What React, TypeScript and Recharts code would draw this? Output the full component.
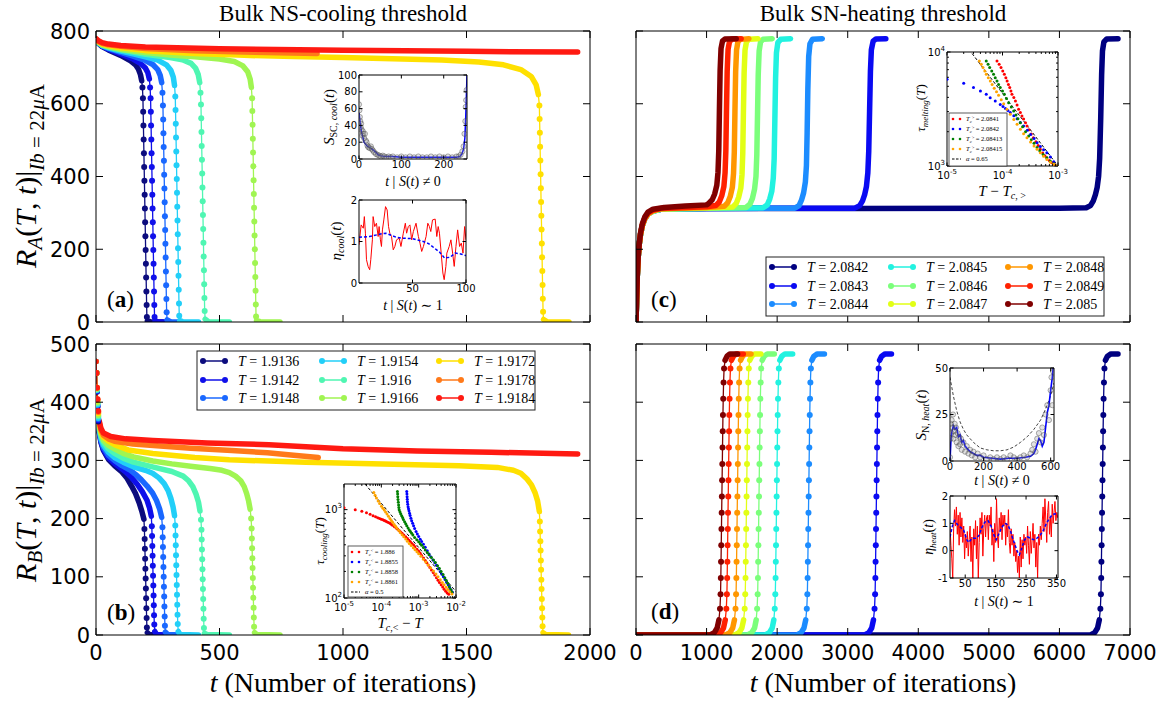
import React from "react";
import { LineChart, Line, XAxis, YAxis } from "recharts";

type Pts = number[][];
type Side = "bottom" | "top" | "left" | "right";

const serif = "Liberation Serif, DejaVu Serif, serif";
const sans = "DejaVu Sans, sans-serif";

// ---------- main panel data ----------
const abTemps = ["1.9136", "1.9142", "1.9148", "1.9154", "1.916", "1.9166", "1.9172", "1.9178", "1.9184"];
const cdTemps = ["2.0842", "2.0843", "2.0844", "2.0845", "2.0846", "2.0847", "2.0848", "2.0849", "2.085"];
const abColors = ["#0c0c7e", "#1010ea", "#1a68ff", "#22cff8", "#4ff6b2", "#a0f552", "#ffe000", "#ff7a1a", "#ff1a12"];
const cdColors = ["#000080", "#0a0af2", "#1c8cff", "#22f2e0", "#7bff7b", "#e2ff15", "#ff9700", "#ff2100", "#800000"];

const abXTicks = [0, 500, 1000, 1500, 2000];
const cdXTicks = [0, 1000, 2000, 3000, 4000, 5000, 6000, 7000];
const aYTicks = [0, 200, 400, 600, 800];
const bYTicks = [0, 100, 200, 300, 400, 500];

// R_A(T,t), cooling, panel (a)
const coolA: Pts[] = [
  [[0,776],[10,766],[25,757],[50,748],[100,733],[140,718],[160,707],[172,695],[180,680],[185,663],[188,645],[190,615],[191,578],[192,540],[193,502],[194,464],[195,426],[196,388],[197,350],[198,312],[199,274],[200,236],[201,198],[202,160],[203,122],[204,84],[205,47],[206,14],[208,3],[220,1],[270,0]],
  [[0,776],[10,767],[25,758],[50,750],[100,737],[150,723],[180,711],[200,698],[210,685],[216,668],[219,645],[221,615],[222,578],[223,540],[224,502],[225,464],[226,426],[227,388],[228,350],[229,312],[230,274],[231,236],[232,198],[233,160],[234,122],[235,84],[236,47],[237,14],[239,3],[250,1],[300,0]],
  [[0,776],[10,767],[25,759],[50,752],[100,741],[150,731],[200,719],[230,708],[250,694],[260,678],[266,658],[269,630],[271,595],[272,557],[273,519],[274,481],[275,443],[276,405],[277,367],[278,329],[279,291],[280,253],[281,215],[282,177],[283,139],[284,101],[285,63],[286,27],[288,6],[300,1],[340,0]],
  [[0,776],[10,768],[25,760],[50,754],[100,745],[150,737],[200,729],[250,720],[285,707],[303,692],[313,673],[318,650],[321,620],[322,583],[323,545],[324,507],[325,469],[326,431],[327,393],[328,355],[329,317],[330,279],[331,241],[332,203],[333,165],[334,127],[335,89],[336,51],[337,17],[339,4],[350,1],[415,0]],
  [[0,776],[10,768],[25,761],[50,756],[100,748],[200,736],[300,727],[350,721],[385,711],[403,698],[414,680],[420,658],[423,630],[425,598],[426,560],[427,522],[428,484],[429,446],[430,408],[431,370],[432,332],[433,294],[434,256],[435,218],[436,180],[437,142],[438,104],[439,66],[440,30],[442,8],[455,1],[540,0]],
  [[0,777],[10,769],[25,762],[50,757],[100,750],[200,741],[300,734],[400,729],[500,723],[560,716],[595,704],[614,688],[624,668],[629,645],[632,615],[633,580],[634,542],[635,504],[636,466],[637,428],[638,390],[639,352],[640,314],[641,276],[642,238],[643,200],[644,162],[645,124],[646,86],[647,48],[648,15],[650,4],[665,1],[745,0]],
  [[0,777],[10,770],[25,764],[50,760],[100,754],[200,746],[400,738],[600,733],[800,730],[1000,727],[1200,724],[1400,720],[1550,715],[1650,707],[1720,694],[1762,675],[1782,652],[1791,625],[1795,595],[1796,558],[1797,520],[1798,482],[1799,444],[1800,406],[1801,368],[1802,330],[1803,292],[1804,254],[1805,216],[1806,178],[1807,140],[1808,102],[1809,64],[1810,28],[1812,7],[1825,1],[1915,0]],
  [[0,778],[10,771],[25,766],[50,762],[100,758],[200,752],[400,746],[600,742],[895,738]],
  [[0,779],[10,773],[25,768],[50,764],[100,760],[200,756],[500,751],[1000,747],[1500,744],[1950,742]],
];

// R_B(T,t), cooling, panel (b)
const coolB: Pts[] = [
  [[0,470],[2,450],[4,418],[6,392],[9,367],[13,348],[20,331],[30,317],[50,302],[75,291],[105,280],[125,270],[144,256],[160,243],[175,227],[186,212],[194,199],[196,182],[197,165],[198,148],[199,131],[200,114],[201,97],[202,80],[203,63],[204,46],[205,29],[206,13],[208,4],[215,1],[270,0]],
  [[0,470],[2,450],[4,419],[6,393],[9,369],[13,350],[20,333],[30,319],[50,305],[75,295],[100,287],[121,280],[145,270],[167,259],[188,246],[206,232],[217,218],[224,204],[226,187],[227,170],[228,153],[229,136],[230,119],[231,102],[232,85],[233,68],[234,51],[235,34],[236,18],[238,6],[245,1],[300,0]],
  [[0,470],[2,450],[4,420],[6,395],[9,371],[13,352],[20,335],[30,322],[50,309],[75,300],[105,291],[136,284],[160,276],[183,267],[207,256],[229,244],[245,231],[258,216],[266,202],[269,185],[270,168],[271,151],[272,134],[273,117],[274,100],[275,83],[276,66],[277,49],[278,32],[279,16],[281,5],[290,1],[340,0]],
  [[0,470],[2,450],[4,421],[6,396],[9,373],[13,354],[20,338],[30,326],[50,314],[75,305],[110,297],[152,289],[200,283],[229,278],[255,270],[276,260],[292,248],[303,235],[312,220],[318,205],[321,188],[322,171],[323,154],[324,137],[325,120],[326,103],[327,86],[328,69],[329,52],[330,35],[331,19],[333,6],[340,1],[415,0]],
  [[0,470],[2,450],[4,422],[6,398],[9,376],[13,357],[20,342],[30,331],[50,320],[75,312],[110,304],[152,297],[229,289],[307,281],[353,273],[375,265],[392,255],[405,242],[415,228],[421,213],[425,198],[427,181],[428,164],[429,147],[430,130],[431,113],[432,96],[433,79],[434,62],[435,45],[436,28],[437,12],[439,3],[450,1],[540,0]],
  [[0,470],[2,450],[4,423],[6,400],[9,378],[13,360],[20,345],[30,335],[50,326],[75,320],[110,312],[152,306],[230,299],[307,294],[400,289],[462,286],[510,283],[540,279],[565,273],[586,265],[600,255],[610,243],[618,230],[624,216],[628,200],[630,183],[631,166],[632,149],[633,132],[634,115],[635,98],[636,81],[637,64],[638,47],[639,30],[640,14],[642,4],[650,1],[745,0]],
  [[0,470],[2,450],[4,425],[6,403],[9,381],[13,363],[20,349],[30,340],[50,333],[75,327],[130,318],[230,312],[400,305],[540,301],[850,297],[1160,294],[1470,291],[1625,288],[1690,283],[1720,278],[1745,268],[1763,258],[1778,244],[1788,230],[1795,212],[1797,195],[1798,178],[1799,161],[1800,145],[1801,128],[1802,112],[1803,95],[1804,79],[1805,62],[1806,46],[1807,30],[1808,15],[1810,4],[1820,1],[1913,0]],
  [[0,470],[2,450],[4,425],[6,405],[9,383],[13,366],[20,352],[30,343],[50,337],[75,333],[150,328],[384,321],[550,317],[694,313],[800,309],[900,305]],
  [[0,470],[2,450],[4,425],[6,405],[9,385],[13,368],[20,355],[30,347],[60,341],[120,337],[230,334],[450,330],[700,327],[1000,320],[1300,316],[1600,314],[1950,311]],
];

// R_A(T,t), heating, panel (c)
const heatC: Pts[] = [
  [[0,0],[8,60],[18,125],[30,175],[45,212],[65,242],[90,265],[125,284],[170,297],[240,305],[350,310],[1000,312],[3000,312],[6000,313],[6380,314],[6440,320],[6480,333],[6510,350],[6535,370],[6555,400],[6570,450],[6585,560],[6598,680],[6610,745],[6630,770],[6670,778],[6830,779]],
  [[0,0],[8,60],[18,125],[30,175],[45,212],[65,242],[90,265],[125,284],[170,297],[240,305],[350,310],[1000,312],[3100,313],[3170,320],[3210,333],[3240,350],[3265,372],[3285,410],[3298,470],[3310,580],[3322,690],[3335,748],[3360,772],[3400,778],[3540,779]],
  [[0,0],[8,60],[18,125],[30,175],[45,212],[65,242],[90,265],[125,284],[170,297],[240,305],[350,310],[1000,312],[2250,313],[2310,320],[2345,335],[2375,355],[2400,385],[2415,430],[2425,520],[2435,640],[2447,730],[2465,765],[2500,777],[2640,779]],
  [[0,0],[8,60],[18,125],[30,175],[45,212],[65,242],[90,265],[125,284],[170,297],[240,305],[350,310],[1000,313],[1800,314],[1860,322],[1895,338],[1925,360],[1945,395],[1958,450],[1968,560],[1978,670],[1990,740],[2010,768],[2050,777],[2190,779]],
  [[0,0],[8,60],[18,125],[30,175],[45,212],[65,242],[90,265],[125,284],[170,297],[240,305],[350,310],[1000,313],[1560,315],[1615,324],[1650,340],[1680,365],[1700,400],[1712,460],[1722,570],[1732,680],[1745,745],[1765,770],[1800,777],[1930,779]],
  [[0,0],[8,60],[18,125],[30,175],[45,212],[65,242],[90,265],[125,284],[170,297],[240,305],[350,311],[1000,314],[1370,316],[1420,326],[1455,343],[1485,368],[1502,405],[1513,465],[1522,575],[1532,685],[1545,748],[1565,770],[1600,777],[1730,779]],
  [[0,0],[8,60],[18,125],[30,175],[45,212],[65,242],[90,265],[125,284],[170,297],[240,306],[350,311],[1000,315],[1250,318],[1300,328],[1335,345],[1365,370],[1382,408],[1393,468],[1402,578],[1412,688],[1425,748],[1445,771],[1480,777],[1600,779]],
  [[0,0],[8,61],[18,126],[30,176],[45,213],[65,244],[90,267],[125,286],[170,299],[240,307],[350,312],[1000,317],[1130,320],[1180,330],[1215,347],[1245,372],[1262,410],[1273,470],[1282,580],[1292,690],[1305,750],[1325,771],[1360,778],[1490,779]],
  [[0,0],[8,62],[18,128],[30,178],[45,215],[65,246],[90,270],[125,289],[170,302],[240,310],[400,315],[700,319],[1000,322],[1030,326],[1080,336],[1115,352],[1145,376],[1162,412],[1173,472],[1182,582],[1192,692],[1205,752],[1225,772],[1260,778],[1420,779]],
];

// R_B(T,t), heating, panel (d)
const heatD: Pts[] = [
  [[0,0],[6440,0],[6500,4],[6540,12],[6565,26],[6580,45],[6588,70],[6592,98],[6595,126],[6598,154],[6601,182],[6604,210],[6607,238],[6610,266],[6613,294],[6616,322],[6619,350],[6622,378],[6626,406],[6631,434],[6638,458],[6652,472],[6680,479],[6730,483],[6830,483]],
  [[0,0],[3240,0],[3300,4],[3340,12],[3365,26],[3380,45],[3388,70],[3392,98],[3395,126],[3398,154],[3401,182],[3404,210],[3407,238],[3410,266],[3413,294],[3416,322],[3419,350],[3422,378],[3426,406],[3431,434],[3438,458],[3452,472],[3480,479],[3530,483],[3620,483]],
  [[0,0],[2280,0],[2340,4],[2380,12],[2405,26],[2420,45],[2428,70],[2432,98],[2435,126],[2438,154],[2441,182],[2444,210],[2447,238],[2450,266],[2453,294],[2456,322],[2459,350],[2462,378],[2466,406],[2471,434],[2478,458],[2492,472],[2520,479],[2570,483],[2670,483]],
  [[0,0],[1830,0],[1890,4],[1930,12],[1953,26],[1966,45],[1974,70],[1978,98],[1981,126],[1984,154],[1987,182],[1990,210],[1993,238],[1996,266],[1999,294],[2002,322],[2005,350],[2008,378],[2012,406],[2017,434],[2024,458],[2038,472],[2066,479],[2110,483],[2220,483]],
  [[0,0],[1580,0],[1640,4],[1680,12],[1703,26],[1716,45],[1724,70],[1728,98],[1731,126],[1734,154],[1737,182],[1740,210],[1743,238],[1746,266],[1749,294],[1752,322],[1755,350],[1758,378],[1762,406],[1767,434],[1774,458],[1788,472],[1816,479],[1860,483],[1960,483]],
  [[0,0],[1400,0],[1460,4],[1500,12],[1525,26],[1540,45],[1548,70],[1552,98],[1555,126],[1558,154],[1561,182],[1564,210],[1567,238],[1570,266],[1573,294],[1576,322],[1579,350],[1582,378],[1586,406],[1591,434],[1598,458],[1612,472],[1640,479],[1680,483],[1770,483]],
  [[0,0],[1270,0],[1330,4],[1370,12],[1395,26],[1410,45],[1418,70],[1422,98],[1425,126],[1428,154],[1431,182],[1434,210],[1437,238],[1440,266],[1443,294],[1446,322],[1449,350],[1452,378],[1456,406],[1461,434],[1468,458],[1482,472],[1510,479],[1550,483],[1630,483]],
  [[0,0],[1140,0],[1200,4],[1240,12],[1265,26],[1280,45],[1288,70],[1292,98],[1295,126],[1298,154],[1301,182],[1304,210],[1307,238],[1310,266],[1313,294],[1316,322],[1319,350],[1322,378],[1326,406],[1331,434],[1338,458],[1352,472],[1380,479],[1420,483],[1520,483]],
  [[0,0],[1050,0],[1110,4],[1150,12],[1175,26],[1190,45],[1198,70],[1202,98],[1205,126],[1208,154],[1211,182],[1214,210],[1217,238],[1220,266],[1223,294],[1226,322],[1229,350],[1232,378],[1236,406],[1241,434],[1248,458],[1262,472],[1290,479],[1330,483],[1440,483]],
];

// ---------- inset data ----------
const sCoolPts: Pts = [[0,65],[1,58],[2,50],[3,45],[4,38],[5,42],[6,35],[8,28],[9,33],[10,30],[12,25],[14,30],[16,22],[18,20],[20,16],[22,14],[25,13],[28,15],[30,12],[33,10],[36,8],[40,6],[44,5],[48,4],[52,3],[56,4],[60,3],[65,2],[70,3],[75,2],[80,3],[90,2],[100,3],[110,2],[120,3],[130,2],[140,3],[150,2],[160,2],[170,3],[180,2],[190,3],[200,2],[210,3],[220,2],[230,3],[235,3],[240,5],[244,9],[247,15],[249,30],[251,45],[252,62],[253,70],[254,82]];
const sCoolFit: Pts = [[0,55],[3,42],[6,32],[9,26],[12,20],[15,18],[20,15],[25,14],[30,12],[35,10],[40,8],[45,5],[50,4],[60,3],[80,3],[100,2],[150,2],[200,2],[230,2],[238,3],[243,6],[247,12],[250,25],[252,50],[253.5,75],[255,100]];
const etaCool: Pts = [[0,0.92],[2,1.4],[4,1.32],[5,1.6],[6,1.2],[7,0.56],[8.5,0.4],[10,0.32],[11,0.56],[12.5,1.04],[13.2,1.6],[14.7,1.36],[16.3,1.44],[17.9,1.12],[18.8,1.36],[20,1.04],[21,0.88],[21.9,1.28],[23.2,1.52],[24.8,1.84],[26.3,1.76],[27.6,1.36],[28.8,1.2],[30.4,1.12],[32,0.8],[33.5,0.88],[35.1,1.04],[37.6,1.08],[39.2,0.88],[41.4,1.2],[43.3,1.44],[44.5,1.2],[46.1,1.36],[47.6,1.4],[49.2,1.04],[50.8,1.24],[53.3,1.44],[55.5,1.12],[57,0.96],[58.6,0.76],[60.2,0.88],[62.7,1.12],[64.3,1.44],[65.8,1.36],[67.1,1.24],[68.7,1.52],[71.2,1.54],[72.7,1.12],[74,1.36],[75.2,1.2],[76.8,0.72],[78.4,0.24],[79.6,0.08],[81.2,0.4],[82.1,0.72],[84.3,0.88],[85.9,1.04],[87.5,0.72],[89,0.4],[90.6,0.88],[92.2,1.28],[94,0.88],[95.6,0.96],[97.2,0.72],[98.7,1.36],[100,1.04]];
const etaCoolAvg: Pts = [[0,1.1],[10,1.12],[20,1.18],[25,1.2],[30,1.15],[35,1.1],[40,1.08],[50,1.07],[60,1.0],[65,0.95],[70,0.85],[75,0.75],[80,0.6],[85,0.62],[90,0.72],[95,0.7],[100,0.66]];

const tauCoolRed: Pts = [[1.0e-5,1050],[2.0e-5,1000],[3.0e-5,960],[4.0e-5,920],[5.0e-5,885],[6.0e-5,852],[7.0e-5,830],[8.0e-5,810],[9.0e-5,795],[1.0e-4,780],[1.1e-4,767],[1.2e-4,755],[1.3e-4,742],[1.4e-4,730],[1.55e-4,715],[1.7e-4,700],[1.85e-4,683],[2.0e-4,665],[2.25e-4,642],[2.5e-4,620],[2.75e-4,600],[3.0e-4,580],[3.3e-4,560],[3.6e-4,540],[4.0e-4,515],[4.5e-4,492],[5.0e-4,470],[5.5e-4,450],[6.0e-4,432],[6.6e-4,415],[7.3e-4,398],[8.0e-4,380],[9.0e-4,357],[1.0e-3,337],[1.1e-3,320],[1.2e-3,303],[1.35e-3,283],[1.5e-3,265],[1.65e-3,250],[1.8e-3,237],[2.0e-3,222],[2.2e-3,208],[2.45e-3,194],[2.7e-3,182],[3.0e-3,170],[3.3e-3,159],[3.6e-3,150],[4.0e-3,141],[4.4e-3,133],[4.8e-3,126],[5.3e-3,119],[5.8e-3,114],[6.4e-3,110]];
const tauCoolBlue: Pts = [[4.8e-4,1600],[4.85e-4,1500],[4.9e-4,1400],[4.95e-4,1310],[5.0e-4,1230],[5.1e-4,1150],[5.2e-4,1080],[5.35e-4,1020],[5.5e-4,970],[5.7e-4,910],[5.9e-4,860],[6.2e-4,800],[6.5e-4,750],[6.9e-4,700],[7.3e-4,655],[7.8e-4,610],[8.5e-4,565],[9.2e-4,530],[1.0e-3,497],[1.1e-3,463],[1.2e-3,435],[1.34e-3,405],[1.5e-3,375],[1.7e-3,343],[1.9e-3,315],[2.1e-3,293],[2.4e-3,270],[2.7e-3,250],[3.0e-3,234],[3.4e-3,215],[3.8e-3,199],[4.2e-3,186],[4.6e-3,174],[5.1e-3,162],[5.6e-3,151],[6.2e-3,141],[6.8e-3,131],[7.4e-3,123],[8.0e-3,116]];
const tauCoolGreen: Pts = [[2.7e-4,1600],[2.73e-4,1500],[2.76e-4,1400],[2.8e-4,1300],[2.85e-4,1210],[2.9e-4,1130],[2.95e-4,1060],[3.0e-4,1000],[3.15e-4,945],[3.3e-4,900],[3.5e-4,855],[3.7e-4,812],[3.9e-4,775],[4.2e-4,730],[4.5e-4,690],[4.8e-4,655],[5.2e-4,620],[5.6e-4,590],[6.0e-4,565],[6.5e-4,540],[7.0e-4,515],[7.8e-4,485],[8.9e-4,455],[1.0e-3,432],[1.1e-3,412],[1.2e-3,395],[1.34e-3,372],[1.5e-3,350],[1.7e-3,328],[1.9e-3,308],[2.2e-3,287],[2.5e-3,270],[2.8e-3,252],[3.2e-3,232],[3.6e-3,215],[4.0e-3,200],[4.5e-3,184],[5.0e-3,170],[5.5e-3,158],[6.0e-3,147],[6.6e-3,135],[7.2e-3,125],[7.8e-3,117]];
const tauCoolOrange: Pts = [[6.3e-5,1560],[6.8e-5,1450],[7.4e-5,1350],[8.2e-5,1250],[9.0e-5,1170],[1.01e-4,1090],[1.1e-4,1040],[1.2e-4,990],[1.3e-4,940],[1.42e-4,890],[1.55e-4,840],[1.7e-4,795],[1.85e-4,755],[2.0e-4,720],[2.2e-4,680],[2.4e-4,648],[2.6e-4,620],[2.9e-4,585],[3.2e-4,552],[3.6e-4,520],[4.0e-4,493],[4.5e-4,465],[5.0e-4,440],[5.6e-4,415],[6.3e-4,393],[7.2e-4,370],[8.0e-4,352],[9.0e-4,333],[1.0e-3,316],[1.15e-3,296],[1.34e-3,275],[1.55e-3,255],[1.8e-3,237],[2.1e-3,219],[2.5e-3,202],[2.9e-3,187],[3.3e-3,174],[3.8e-3,161],[4.3e-3,150],[4.8e-3,141],[5.4e-3,132],[6.0e-3,125],[6.8e-3,118],[7.8e-3,111]];
const tauCoolFit: Pts = [[3.0e-5,2150],[1.0e-2,118]];

const tauMeltRed: Pts = [[7.96e-5,8340],[8.7e-5,7800],[9.4e-5,7300],[1.01e-4,6800],[1.08e-4,6370],[1.15e-4,5950],[1.21e-4,5570],[1.28e-4,5200],[1.35e-4,4870],[1.42e-4,4550],[1.48e-4,4250],[1.6e-4,3980],[1.71e-4,3720],[1.83e-4,3420],[1.95e-4,3140],[2.1e-4,2940],[2.24e-4,2750],[2.4e-4,2580],[2.6e-4,2400],[2.76e-4,2240],[3.0e-4,2080],[3.3e-4,1910],[3.6e-4,1770],[4.0e-4,1630],[4.4e-4,1510],[4.8e-4,1400],[5.3e-4,1300],[5.8e-4,1230],[6.3e-4,1180],[7.0e-4,1120],[7.8e-4,1070],[8.6e-4,1035],[9.6e-4,1000]];
const tauMeltBlue: Pts = [[1.0e-5,5760],[2.0e-5,5310],[3.0e-5,4870],[4.0e-5,4550],[5.1e-5,4250],[6.0e-5,3970],[7.4e-5,3720],[9.1e-5,3470],[1.02e-4,3330],[1.13e-4,3200],[1.25e-4,3070],[1.38e-4,2940],[1.6e-4,2760],[1.83e-4,2600],[2.1e-4,2410],[2.4e-4,2240],[2.8e-4,2060],[3.2e-4,1890],[3.7e-4,1740],[4.2e-4,1600],[4.8e-4,1480],[5.5e-4,1390],[6.3e-4,1310],[7.3e-4,1200],[8.4e-4,1090],[9.6e-4,1000]];
const tauMeltGreen: Pts = [[5.1e-5,8340],[5.5e-5,7800],[5.87e-5,7300],[6.4e-5,6800],[6.9e-5,6370],[7.4e-5,5950],[7.96e-5,5570],[8.5e-5,5200],[9.1e-5,4870],[1.0e-4,4550],[1.08e-4,4250],[1.18e-4,3900],[1.29e-4,3590],[1.44e-4,3300],[1.59e-4,3040],[1.75e-4,2800],[1.9e-4,2600],[2.09e-4,2400],[2.3e-4,2210],[2.6e-4,2000],[2.96e-4,1830],[3.3e-4,1700],[3.7e-4,1580],[4.2e-4,1450],[4.7e-4,1360],[5.4e-4,1260],[6.3e-4,1180],[7.3e-4,1100],[8.4e-4,1045],[9.6e-4,1000]];
const tauMeltOrange: Pts = [[3.83e-5,8340],[4.15e-5,7800],[4.45e-5,7300],[4.8e-5,6800],[5.1e-5,6370],[5.55e-5,5950],[6.03e-5,5570],[6.5e-5,5180],[7.1e-5,4800],[7.8e-5,4470],[8.5e-5,4170],[9.5e-5,3820],[1.05e-4,3520],[1.2e-4,3150],[1.38e-4,2840],[1.6e-4,2560],[1.83e-4,2320],[2.1e-4,2100],[2.4e-4,1920],[2.76e-4,1770],[3.2e-4,1620],[3.7e-4,1500],[4.2e-4,1400],[4.8e-4,1310],[5.5e-4,1220],[6.3e-4,1140],[7.3e-4,1080],[8.4e-4,1035],[9.6e-4,1000]];
const tauMeltFit: Pts = [[2.5e-5,10500],[1.0e-3,1000]];

const sHeatPts: Pts = [[0,2],[3,12],[5,20],[8,15],[10,22],[14,18],[18,25],[20,12],[24,16],[28,20],[32,14],[36,18],[40,10],[45,15],[50,8],[55,13],[60,9],[65,12],[70,6],[80,10],[90,5],[100,8],[110,4],[120,6],[130,3],[140,5],[150,2],[165,4],[180,2],[200,3],[220,1],[240,2],[260,1],[280,2],[300,1],[320,2],[340,1],[360,3],[380,2],[400,1],[420,2],[440,3],[460,2],[480,4],[490,6],[500,9],[510,5],[520,12],[530,15],[540,10],[550,18],[560,14],[570,25],[580,30],[590,22],[600,38],[605,45],[610,30],[615,48]];
const sHeatFit: Pts = [[0,0],[5,10],[10,15],[20,19],[30,17],[40,18],[50,13],[60,14],[70,10],[80,11],[90,8],[100,7],[120,5],[140,4],[160,3],[180,3],[200,2],[250,1.5],[300,1],[350,1.5],[400,1.5],[450,2],[480,2.5],[500,4],[510,6],[520,9],[530,12],[540,11],[550,8],[560,10],[570,18],[580,26],[590,30],[600,38],[610,45],[615,50]];
const sHeatGuide: Pts = [[0,45],[20,35],[40,27],[60,21],[80,17],[100,14],[140,10],[180,7],[220,6],[260,5.5],[300,5.5],[340,6],[380,7.5],[420,10],[460,13],[500,17],[540,22],[570,28],[600,35],[620,42]];
const etaHeat: Pts = [[0,0.9],[3,0.2],[6,-0.3],[9,-1.0],[12,0.8],[15,1.5],[18,0.9],[21,1.6],[24,0.6],[27,1.3],[30,0.2],[33,1.4],[36,0.5],[39,1.2],[42,0.3],[45,0.9],[48,-0.3],[51,0.6],[54,0.1],[57,0.7],[60,-0.2],[63,0.4],[66,0.9],[69,-0.4],[72,0.5],[75,-1.0],[78,0.8],[81,0.2],[84,1.1],[87,-0.3],[90,0.9],[93,-1.0],[96,0.3],[99,1.2],[102,0.6],[105,1.4],[108,-0.2],[111,0.8],[114,1.3],[117,0.5],[120,1.2],[123,1.3],[126,0.4],[129,1.3],[132,0.9],[135,1.6],[138,0.2],[141,0.8],[144,-0.4],[147,1.0],[150,0.3],[153,1.9],[156,0.5],[159,0.1],[162,1.2],[165,0.7],[168,1.4],[171,0.4],[174,1.3],[177,0.9],[180,1.3],[183,0.2],[186,1.0],[189,0.5],[192,1.5],[195,0.3],[198,-0.1],[201,0.8],[204,0.2],[207,0.6],[210,-0.2],[213,0.3],[216,-0.4],[219,0.0],[222,-0.8],[225,-0.2],[228,-1.0],[231,0.5],[234,-0.6],[237,0.4],[240,-0.3],[243,0.6],[246,0.2],[249,0.5],[252,-0.1],[255,0.9],[258,0.2],[261,-0.5],[264,0.7],[267,-0.1],[270,0.4],[273,1.0],[276,0.1],[279,0.6],[282,-0.6],[285,0.3],[288,-1.0],[291,0.6],[294,0.2],[297,0.9],[300,0.4],[303,1.0],[306,1.6],[309,0.7],[312,1.9],[315,1.1],[318,0.3],[321,1.4],[324,1.8],[327,0.6],[330,1.2],[333,0.5],[336,1.7],[339,1.0],[342,1.4],[345,1.8],[348,1.1],[351,1.4],[354,1.2]];
const etaHeatAvg: Pts = [[0,0.5],[8,0.9],[15,1.1],[25,0.95],[35,0.85],[45,0.75],[55,0.4],[62,0.3],[72,0.45],[85,0.45],[95,0.55],[105,0.85],[115,1.05],[125,1.1],[135,0.9],[145,0.55],[152,0.4],[160,0.6],[170,0.85],[180,1.0],[190,0.95],[198,0.75],[206,0.45],[214,0.2],[222,-0.05],[228,-0.15],[236,0.1],[245,0.4],[255,0.5],[265,0.45],[275,0.4],[285,0.45],[295,0.55],[305,0.7],[315,0.95],[325,1.15],[335,1.3],[345,1.35],[355,1.3]];

const logX3 = [1e-5,2e-5,3e-5,4e-5,5e-5,6e-5,7e-5,8e-5,9e-5,1e-4,2e-4,3e-4,4e-4,5e-4,6e-4,7e-4,8e-4,9e-4,1e-3,2e-3,3e-3,4e-3,5e-3,6e-3,7e-3,8e-3,9e-3,1e-2];
const logX2 = [1e-5,2e-5,3e-5,4e-5,5e-5,6e-5,7e-5,8e-5,9e-5,1e-4,2e-4,3e-4,4e-4,5e-4,6e-4,7e-4,8e-4,9e-4,1e-3];
const logYb = [100,200,300,400,500,600,700,800,900,1000];
const logYc = [1000,2000,3000,4000,5000,6000,7000,8000,9000,10000];

// ---------- helpers ----------
const AX = { stroke: "#000", strokeWidth: 1 };
const xy = (p: Pts) => p.map(([x, y]) => ({ x, y }));
const isPow10 = (v: number) => {
  const e = Math.round(Math.log10(v));
  return Math.abs(v / Math.pow(10, e) - 1) < 1e-6;
};
const powLabel = (v: number) => {
  const e = Math.round(Math.log10(v));
  return (
    <>
      10<tspan dy={-5} fontSize={7}>{e}</tspan>
    </>
  );
};

function makeTick(side: Side, gap: number, len: number, fs: number, show: boolean, log = false) {
  return (p: any) => {
    const v = p.payload.value as number;
    const minor = log && !isPow10(v);
    const L = minor ? len * 0.55 : len;
    const txt = show && !minor ? (log ? powLabel(v) : String(v)) : null;
    const tp = { fontSize: fs, fill: "#000", style: { fontFamily: sans } };
    if (side === "bottom") {
      const a = p.y - gap;
      return (
        <g>
          <line x1={p.x} x2={p.x} y1={a} y2={a - L} stroke="#000" />
          {txt !== null && <text x={p.x} y={p.y + fs * 0.74} textAnchor="middle" {...tp}>{txt}</text>}
        </g>
      );
    }
    if (side === "top") {
      const a = p.y + gap;
      return <line x1={p.x} x2={p.x} y1={a} y2={a + L} stroke="#000" />;
    }
    if (side === "left") {
      const a = p.x + gap;
      return (
        <g>
          <line x1={a} x2={a + L} y1={p.y} y2={p.y} stroke="#000" />
          {txt !== null && <text x={p.x} y={p.y + fs * 0.36} textAnchor="end" {...tp}>{txt}</text>}
        </g>
      );
    }
    const a = p.x - gap;
    return <line x1={a} x2={a - L} y1={p.y} y2={p.y} stroke="#000" />;
  };
}

// indices of points that sit inside a near-vertical run (drawn as separate dots)
function steepSet(pts: Pts, kx: number, ky: number) {
  const s = new Set<number>();
  const steep = (i: number) =>
    Math.abs((pts[i + 1][1] - pts[i][1]) * ky) > 8 * Math.abs((pts[i + 1][0] - pts[i][0]) * kx);
  for (let i = 1; i < pts.length - 1; i++) if (steep(i - 1) && steep(i)) s.add(i);
  return s;
}

type Box = { left: number; top: number; width: number; height: number };
type Mg = { top: number; right: number; bottom: number; left: number };

// axes are 1px thick; margins shrink by 1 so the plot box stays where it should
const shrink = (m: Mg) => ({ top: m.top - 1, right: m.right - 1, bottom: m.bottom - 1, left: m.left - 1 });

function Panel(props: {
  box: Box; m: Mg; curves: Pts[]; colors: string[];
  xDomain: number[]; xTicks: number[]; yDomain: number[]; yTicks: number[];
  xLab: boolean; yLab: boolean; thick: boolean;
}) {
  const { box, m, curves, colors, xDomain, xTicks, yDomain, yTicks, xLab, yLab, thick } = props;
  const pw = box.width - m.left - m.right;
  const ph = box.height - m.top - m.bottom;
  const kx = pw / (xDomain[1] - xDomain[0]);
  const ky = ph / (yDomain[1] - yDomain[0]);
  const items = curves.flatMap((pts, i) => {
    const col = colors[i];
    const common = { dataKey: "y", xAxisId: "b", yAxisId: "l", isAnimationActive: false, activeDot: false as const, type: "linear" as const };
    if (thick) {
      return [
        <Line key={`k${i}`} {...common} data={xy(pts)} stroke={col} strokeWidth={5.5} dot={false} strokeLinecap="round" strokeLinejoin="round" />,
      ];
    }
    const s = steepSet(pts, kx, ky);
    const band = pts.map(([x, y], j) => ({ x, y: s.has(j) ? null : y }));
    return [
      <Line key={`k${i}`} {...common} data={band} stroke={col} strokeWidth={5.5} dot={false} connectNulls={false} strokeLinecap="round" strokeLinejoin="round" />,
      <Line
        key={`d${i}`}
        {...common}
        data={xy(pts)}
        stroke={col}
        strokeWidth={1.3}
        dot={(p: any) =>
          s.has(p.index) ? <circle key={p.index} cx={p.cx} cy={p.cy} r={3} fill={col} /> : <g key={p.index} />
        }
      />,
    ];
  });
  return (
    <div style={{ position: "absolute", left: box.left, top: box.top }}>
      <LineChart width={box.width} height={box.height} margin={shrink(m)}>
        <XAxis xAxisId="b" dataKey="x" type="number" domain={xDomain} ticks={xTicks} allowDataOverflow interval={0} height={1} tickSize={0} tickMargin={9} tickLine={false} axisLine={AX} tick={makeTick("bottom", 9, 7, 21, xLab)} />
        <XAxis xAxisId="t" orientation="top" dataKey="x" type="number" domain={xDomain} ticks={xTicks} allowDataOverflow interval={0} height={1} tickSize={0} tickMargin={0} tickLine={false} axisLine={AX} tick={makeTick("top", 0, 7, 21, false)} />
        <YAxis yAxisId="l" type="number" domain={yDomain} ticks={yTicks} allowDataOverflow interval={0} width={1} tickSize={0} tickMargin={6} tickLine={false} axisLine={AX} tick={makeTick("left", 6, 7, 21, yLab)} />
        <YAxis yAxisId="r" orientation="right" type="number" domain={yDomain} ticks={yTicks} allowDataOverflow interval={0} width={1} tickSize={0} tickMargin={0} tickLine={false} axisLine={AX} tick={makeTick("right", 0, 7, 21, false)} />
        {items}
      </LineChart>
    </div>
  );
}

function Inset(props: {
  x: number; y: number; w: number; h: number;
  xDomain: number[]; yDomain: number[]; xTicks: number[]; yTicks: number[];
  xLog?: boolean; yLog?: boolean; children: React.ReactNode;
}) {
  const { x, y, w, h, xDomain, yDomain, xTicks, yTicks, xLog = false, yLog = false } = props;
  const m = { top: 10, left: 42, right: 16, bottom: 24 };
  const fs = 10;
  const bg = xLog ? 6 : 2;
  return (
    <>
      <div style={{ position: "absolute", left: x, top: y, width: w, height: h, background: "#fff" }} />
      <div style={{ position: "absolute", left: x - m.left, top: y - m.top }}>
        <LineChart width={w + m.left + m.right} height={h + m.top + m.bottom} margin={shrink(m)}>
          <XAxis xAxisId="b" dataKey="x" type="number" scale={xLog ? "log" : "auto"} domain={xDomain} ticks={xTicks} allowDataOverflow interval={0} height={1} tickSize={0} tickMargin={bg} tickLine={false} axisLine={AX} tick={makeTick("bottom", bg, 3.5, fs, true, xLog)} />
          <XAxis xAxisId="t" orientation="top" dataKey="x" type="number" scale={xLog ? "log" : "auto"} domain={xDomain} ticks={xTicks} allowDataOverflow interval={0} height={1} tickSize={0} tickMargin={0} tickLine={false} axisLine={AX} tick={makeTick("top", 0, 3.5, fs, false, xLog)} />
          <YAxis yAxisId="l" type="number" scale={yLog ? "log" : "auto"} domain={yDomain} ticks={yTicks} allowDataOverflow interval={0} width={1} tickSize={0} tickMargin={2} tickLine={false} axisLine={AX} tick={makeTick("left", 2, 3.5, fs, true, yLog)} />
          <YAxis yAxisId="r" orientation="right" type="number" scale={yLog ? "log" : "auto"} domain={yDomain} ticks={yTicks} allowDataOverflow interval={0} width={1} tickSize={0} tickMargin={0} tickLine={false} axisLine={AX} tick={makeTick("right", 0, 3.5, fs, false, yLog)} />
          {props.children}
        </LineChart>
      </div>
    </>
  );
}

const base = { dataKey: "y", xAxisId: "b", yAxisId: "l", isAnimationActive: false, activeDot: false as const, type: "linear" as const };
const grayDot = (p: any) => (
  <circle key={p.index} cx={p.cx} cy={p.cy} r={2.6} fill="rgba(140,140,140,0.25)" stroke="rgba(60,60,60,0.5)" strokeWidth={0.8} />
);
const dotOf = (c: string, r = 1.5) => (p: any) => <circle key={p.index} cx={p.cx} cy={p.cy} r={r} fill={c} />;

const SF = { fontFamily: serif };

function MainLegend({ x, y, temps, colors }: { x: number; y: number; temps: string[]; colors: string[] }) {
  const cols = [6, 125, 242];
  const rows = [10, 29, 47];
  return (
    <g>
      <rect x={x} y={y} width={338} height={59} fill="#fff" stroke="#222" strokeWidth={1} />
      {temps.map((t, i) => {
        const lx = x + cols[Math.floor(i / 3)];
        const ly = y + rows[i % 3];
        return (
          <g key={t}>
            <line x1={lx} x2={lx + 22} y1={ly} y2={ly} stroke={colors[i]} strokeWidth={1.5} />
            <circle cx={lx} cy={ly} r={3} fill={colors[i]} />
            <circle cx={lx + 22} cy={ly} r={3} fill={colors[i]} />
            <text x={lx + 35} y={ly + 4.5} fontSize={14} style={SF}>
              <tspan fontStyle="italic">T</tspan> = {t}
            </text>
          </g>
        );
      })}
    </g>
  );
}

function SmallLegend({ x, y, w, h, sym, vals, fitLabel }: { x: number; y: number; w: number; h: number; sym: string; vals: string[]; fitLabel: string }) {
  const cs = ["#ff0000", "#0000ff", "#008000", "#ffa500"];
  return (
    <g style={SF}>
      <rect x={x} y={y} width={w} height={h} fill="#fff" stroke="#333" strokeWidth={0.8} />
      {vals.map((v, i) => (
        <g key={v}>
          <circle cx={x + 4} cy={y + 6 + i * 10} r={1.3} fill={cs[i]} />
          <circle cx={x + 11} cy={y + 6 + i * 10} r={1.3} fill={cs[i]} />
          <text x={x + 17} y={y + 8.3 + i * 10} fontSize={6.5} style={SF}>
            <tspan fontStyle="italic">T</tspan>
            <tspan fontSize={4.5} dy={1.5} fontStyle="italic">c</tspan>
            <tspan fontSize={4.5} dy={-4}>{sym}</tspan>
            <tspan dy={2.5}> = {v}</tspan>
          </text>
        </g>
      ))}
      <line x1={x + 3} x2={x + 12} y1={y + 46} y2={y + 46} stroke="#000" strokeDasharray="2.5 1.5" />
      <text x={x + 17} y={y + 48.3} fontSize={6.5} style={SF}>
        <tspan fontStyle="italic">α</tspan> = {fitLabel}
      </text>
    </g>
  );
}

function Rot({ cx, cy, fs, children }: { cx: number; cy: number; fs: number; children: React.ReactNode }) {
  return (
    <text transform={`rotate(-90 ${cx} ${cy})`} x={cx} y={cy + fs * 0.33} textAnchor="middle" fontSize={fs} style={SF}>
      {children}
    </text>
  );
}

function Overlay() {
  const it = { fontStyle: "italic" as const };
  const rLabel = (cy: number, sub: string) => (
    <text transform={`rotate(-90 26 ${cy})`} x={26} y={cy + 10} textAnchor="middle" fontSize={30} style={SF}>
      <tspan {...it}>R</tspan>
      <tspan {...it} fontSize={21} dy={6}>{sub}</tspan>
      <tspan dy={-6}>(</tspan>
      <tspan {...it}>T</tspan>
      <tspan>, </tspan>
      <tspan {...it}>t</tspan>
      <tspan>)|</tspan>
      <tspan {...it} fontSize={21} dy={8}>Ib</tspan>
      <tspan fontSize={21}> = 22</tspan>
      <tspan {...it} fontSize={21}>μ</tspan>
      <tspan fontSize={21}>A</tspan>
    </text>
  );
  const tag = (x: number, y: number, l: string) => (
    <text x={x} y={y} fontSize={23} style={SF}>
      (<tspan fontWeight="bold">{l}</tspan>)
    </text>
  );
  const tS = (x: number, y: number, rel: string) => (
    <text x={x} y={y} textAnchor="middle" fontSize={14} style={SF}>
      <tspan {...it}>t</tspan> | <tspan {...it}>S</tspan>(<tspan {...it}>t</tspan>) {rel}
    </text>
  );
  return (
    <svg width={1172} height={702} style={{ position: "absolute", left: 0, top: 0, pointerEvents: "none" }}>
      <text x={343} y={21} textAnchor="middle" fontSize={23} style={SF}>Bulk NS-cooling threshold</text>
      <text x={883} y={21} textAnchor="middle" fontSize={23} style={SF}>Bulk SN-heating threshold</text>
      {rLabel(176, "A")}
      {rLabel(490, "B")}
      <text x={343} y={692} textAnchor="middle" fontSize={28} style={SF}>
        <tspan {...it}>t</tspan> (Number of iterations)
      </text>
      <text x={883} y={692} textAnchor="middle" fontSize={28} style={SF}>
        <tspan {...it}>t</tspan> (Number of iterations)
      </text>
      {tag(107, 307, "a")}
      {tag(107, 620, "b")}
      {tag(651, 307, "c")}
      {tag(651, 619, "d")}
      <MainLegend x={197} y={351} temps={abTemps} colors={abColors} />
      <MainLegend x={766} y={257} temps={cdTemps} colors={cdColors} />
      <SmallLegend x={348} y={546} w={55} h={51} sym="<" vals={["1.886", "1.8855", "1.8858", "1.8861"]} fitLabel="0.5" />
      <SmallLegend x={949} y={113} w={58} h={53} sym=">" vals={["2.0841", "2.0842", "2.08413", "2.08415"]} fitLabel="0.65" />

      <Rot cx={329} cy={117} fs={15}>
        <tspan {...it}>S</tspan>
        <tspan fontSize={10} dy={3}>SC, </tspan>
        <tspan fontSize={10} {...it}>cool</tspan>
        <tspan dy={-3}>(</tspan>
        <tspan {...it}>t</tspan>)
      </Rot>
      {tS(413, 186, "≠ 0")}
      <Rot cx={336} cy={241} fs={15}>
        <tspan {...it}>η</tspan>
        <tspan fontSize={10} dy={3} {...it}>cool</tspan>
        <tspan dy={-3}>(</tspan>
        <tspan {...it}>t</tspan>)
      </Rot>
      {tS(413, 310, "∼ 1")}
      <Rot cx={320} cy={541} fs={13}>
        <tspan {...it}>τ</tspan>
        <tspan fontSize={9} dy={3} {...it}>cooling</tspan>
        <tspan dy={-3}>(</tspan>
        <tspan {...it}>T</tspan>)
      </Rot>
      <text x={400} y={628} textAnchor="middle" fontSize={15} style={SF}>
        <tspan {...it}>T</tspan>
        <tspan fontSize={10} dy={3} {...it}>c</tspan>
        <tspan fontSize={10}>,&lt;</tspan>
        <tspan dy={-3}> − </tspan>
        <tspan {...it}>T</tspan>
      </text>
      <Rot cx={921} cy={108} fs={13}>
        <tspan {...it}>τ</tspan>
        <tspan fontSize={9} dy={3} {...it}>melting</tspan>
        <tspan dy={-3}>(</tspan>
        <tspan {...it}>T</tspan>)
      </Rot>
      <text x={1002} y={196} textAnchor="middle" fontSize={15} style={SF}>
        <tspan {...it}>T</tspan> − <tspan {...it}>T</tspan>
        <tspan fontSize={10} dy={3} {...it}>c</tspan>
        <tspan fontSize={10}>, &gt;</tspan>
      </text>
      <Rot cx={921} cy={415} fs={15}>
        <tspan {...it}>S</tspan>
        <tspan fontSize={10} dy={3}>N, </tspan>
        <tspan fontSize={10} {...it}>heat</tspan>
        <tspan dy={-3}>(</tspan>
        <tspan {...it}>t</tspan>)
      </Rot>
      {tS(1002, 485, "≠ 0")}
      <Rot cx={928} cy={537} fs={14}>
        <tspan {...it}>η</tspan>
        <tspan fontSize={9} dy={3} {...it}>heat</tspan>
        <tspan dy={-3}>(</tspan>
        <tspan {...it}>t</tspan>)
      </Rot>
      {tS(1004, 606, "∼ 1")}
    </svg>
  );
}

export default function App() {
  return (
    <div style={{ position: "absolute", left: 0, top: 0, width: 1172, height: 702, background: "#fff", overflow: "hidden" }}>
      <Panel box={{ left: 0, top: 0, width: 625, height: 345 }} m={{ top: 31, left: 96, right: 35, bottom: 23 }} curves={coolA} colors={abColors} xDomain={[0, 2000]} xTicks={abXTicks} yDomain={[0, 800]} yTicks={aYTicks} xLab={false} yLab thick={false} />
      <Panel box={{ left: 0, top: 330, width: 625, height: 345 }} m={{ top: 14, left: 96, right: 35, bottom: 40 }} curves={coolB} colors={abColors} xDomain={[0, 2000]} xTicks={abXTicks} yDomain={[0, 500]} yTicks={bYTicks} xLab yLab thick={false} />
      <Panel box={{ left: 606, top: 0, width: 566, height: 345 }} m={{ top: 31, left: 30, right: 42, bottom: 23 }} curves={heatC} colors={cdColors} xDomain={[0, 7000]} xTicks={cdXTicks} yDomain={[0, 800]} yTicks={aYTicks} xLab={false} yLab={false} thick />
      <Panel box={{ left: 606, top: 330, width: 566, height: 345 }} m={{ top: 14, left: 30, right: 42, bottom: 40 }} curves={heatD} colors={cdColors} xDomain={[0, 7000]} xTicks={cdXTicks} yDomain={[0, 500]} yTicks={bYTicks} xLab yLab={false} thick={false} />

      <Inset x={359} y={75} w={108} h={84} xDomain={[0, 255]} yDomain={[0, 100]} xTicks={[0, 100, 200]} yTicks={[0, 20, 40, 60, 80, 100]}>
        <Line {...base} data={xy(sCoolPts)} stroke="none" dot={grayDot} />
        <Line {...base} data={xy(sCoolFit)} stroke="#0000ff" strokeWidth={1.5} dot={false} />
      </Inset>
      <Inset x={359} y={200} w={107} h={83} xDomain={[0, 100]} yDomain={[0, 2]} xTicks={[50, 100]} yTicks={[0, 1, 2]}>
        <Line {...base} data={xy(etaCool)} stroke="#ff0000" strokeWidth={1} dot={false} />
        <Line {...base} data={xy(etaCoolAvg)} stroke="#0000ff" strokeWidth={1.5} strokeDasharray="3 2" dot={false} />
      </Inset>
      <Inset x={344} y={484} w={112} h={114} xDomain={[1e-5, 1e-2]} yDomain={[100, 1950]} xTicks={logX3} yTicks={logYb} xLog yLog>
        <Line {...base} data={xy(tauCoolRed)} stroke="none" dot={dotOf("#ff0000")} />
        <Line {...base} data={xy(tauCoolBlue)} stroke="none" dot={dotOf("#0000ff")} />
        <Line {...base} data={xy(tauCoolGreen)} stroke="none" dot={dotOf("#008000")} />
        <Line {...base} data={xy(tauCoolOrange)} stroke="none" dot={dotOf("#ffa500")} />
        <Line {...base} data={xy(tauCoolFit)} stroke="#000" strokeWidth={1} strokeDasharray="3 2" dot={false} />
      </Inset>
      <Inset x={947} y={52} w={111} h={114} xDomain={[1e-5, 1e-3]} yDomain={[1000, 10000]} xTicks={logX2} yTicks={logYc} xLog yLog>
        <Line {...base} data={xy(tauMeltRed)} stroke="none" dot={dotOf("#ff0000")} />
        <Line {...base} data={xy(tauMeltBlue)} stroke="none" dot={dotOf("#0000ff")} />
        <Line {...base} data={xy(tauMeltGreen)} stroke="none" dot={dotOf("#008000")} />
        <Line {...base} data={xy(tauMeltOrange)} stroke="none" dot={dotOf("#ffa500")} />
        <Line {...base} data={xy(tauMeltFit)} stroke="#000" strokeWidth={1} strokeDasharray="3 2" dot={false} />
      </Inset>
      <Inset x={950} y={368} w={104} h={93} xDomain={[0, 620]} yDomain={[0, 50]} xTicks={[0, 200, 400, 600]} yTicks={[0, 25, 50]}>
        <Line {...base} data={xy(sHeatPts)} stroke="none" dot={grayDot} />
        <Line {...base} data={xy(sHeatGuide)} stroke="#444" strokeWidth={1} strokeDasharray="3 2" dot={false} />
        <Line {...base} data={xy(sHeatFit)} stroke="#0000ff" strokeWidth={1.6} dot={false} />
      </Inset>
      <Inset x={950} y={496} w={108} h={82} xDomain={[0, 355]} yDomain={[-1, 2]} xTicks={[50, 150, 250, 350]} yTicks={[-1, 0, 1, 2]}>
        <Line {...base} data={xy(etaHeat)} stroke="#ff0000" strokeWidth={1} dot={false} />
        <Line {...base} data={xy(etaHeatAvg)} stroke="#0000ff" strokeWidth={1.5} strokeDasharray="3 2" dot={false} />
      </Inset>

      <Overlay />
    </div>
  );
}
